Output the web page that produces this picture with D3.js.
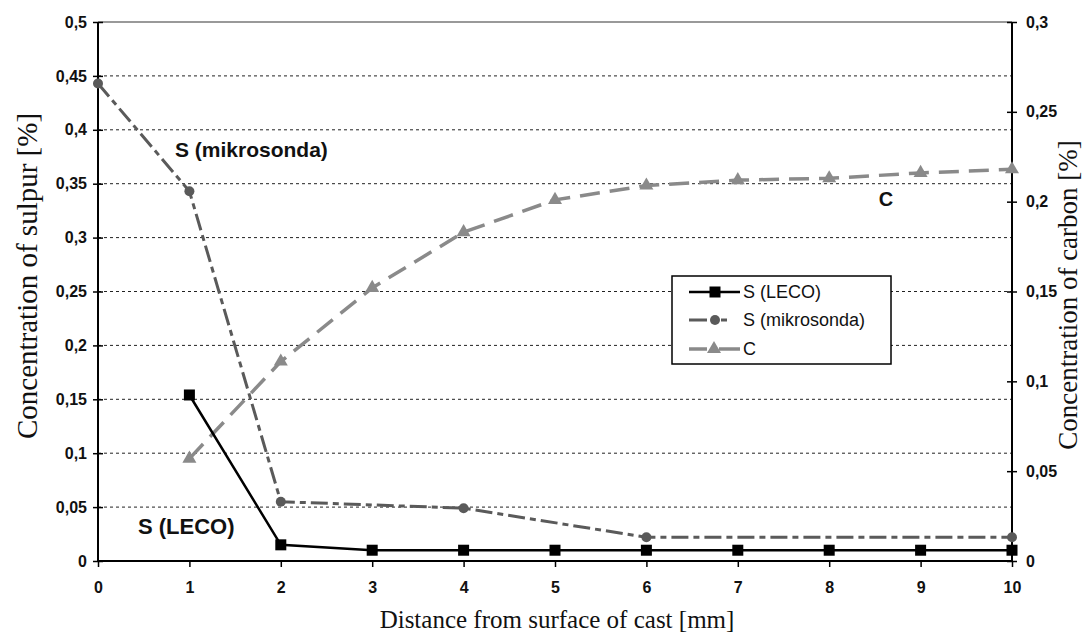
<!DOCTYPE html>
<html><head><meta charset="utf-8">
<script src="https://cdn.jsdelivr.net/npm/d3@7"></script>
<style>body{margin:0;background:#fff}svg{display:block}</style>
</head><body>
<svg id="c" width="1086" height="637"></svg>
<script>
// ---- data ----
const xTicks = [0,1,2,3,4,5,6,7,8,9,10];
const leftTicks = [0,0.05,0.1,0.15,0.2,0.25,0.3,0.35,0.4,0.45,0.5];
const rightTicks = [0,0.05,0.1,0.15,0.2,0.25,0.3];
const lecoX = [1,2,3,4,5,6,7,8,9,10];
const lecoY = [0.154,0.015,0.01,0.01,0.01,0.01,0.01,0.01,0.01,0.01];
const mikroX = [0,1,2,4,6,10];
const mikroY = [0.443,0.343,0.055,0.049,0.022,0.022];
const carbonX = [1,2,3,4,5,6,7,8,9,10];
const carbonY = [0.057,0.111,0.152,0.183,0.201,0.209,0.212,0.213,0.216,0.218];
const seriesNames = ["S (LECO)","S (mikrosonda)","C"];

const svg = d3.select("#c");
const L=98, R=1012, T=22, B=561;
const x = d3.scaleLinear().domain([0,10]).range([L,R]);
const yL = d3.scaleLinear().domain([0,0.5]).range([B,T]);
const yR = d3.scaleLinear().domain([0,0.3]).range([B,T]);
const fmt = v => String(+v.toFixed(2)).replace(".", ",");
const sans = "'Liberation Sans', Arial, sans-serif";
const serif = "'Liberation Serif', 'Times New Roman', serif";

// grid
svg.append("g").selectAll("line").data(leftTicks.filter(v=>v>0 && v<0.5)).join("line")
  .attr("x1",L).attr("x2",R).attr("y1",d=>yL(d)).attr("y2",d=>yL(d))
  .attr("stroke","#222").attr("stroke-width",1).attr("stroke-dasharray","3,3");
svg.append("line").attr("x1",L).attr("x2",R).attr("y1",yL(0.5)).attr("y2",yL(0.5))
  .attr("stroke","#777").attr("stroke-width",1.5);

// axes
const axL = svg.append("g").attr("transform",`translate(${L},0)`)
  .call(d3.axisLeft(yL).tickValues(leftTicks).tickFormat(fmt).tickSize(5).tickPadding(6));
const axR = svg.append("g").attr("transform",`translate(${R},0)`)
  .call(d3.axisRight(yR).tickValues(rightTicks).tickFormat(fmt).tickSize(5).tickPadding(9));
const axB = svg.append("g").attr("transform",`translate(0,${B})`)
  .call(d3.axisBottom(x).tickValues(xTicks).tickFormat(d=>d).tickSize(6).tickPadding(15));
[axL,axR,axB].forEach(g=>{
  g.select(".domain").attr("stroke","#000").attr("stroke-width",2);
  g.selectAll(".tick line").attr("stroke","#000").attr("stroke-width",1.5);
  g.selectAll(".tick text").attr("font-family",sans).attr("font-size",16).attr("font-weight","bold").attr("fill","#111");
});
axL.selectAll(".tick line").attr("x1",5);
axR.selectAll(".tick line").attr("x1",-5);
axL.select(".domain").attr("d",`M0,${T}V${B}`);
axR.select(".domain").attr("d",`M0,${T}V${B}`);
axB.select(".domain").attr("d",`M${L},0H${R}`);

// lines
const lineL = d3.line().x(d=>x(d[0])).y(d=>yL(d[1]));
const lineR = d3.line().x(d=>x(d[0])).y(d=>yR(d[1]));
const carbon = d3.zip(carbonX, carbonY);
const mikro = d3.zip(mikroX, mikroY);
const leco = d3.zip(lecoX, lecoY);

svg.append("path").datum(carbon).attr("d",lineR).attr("fill","none")
  .attr("stroke","#8a8a8a").attr("stroke-width",3.5).attr("stroke-dasharray","20,10");
svg.append("g").selectAll("path").data(carbon).join("path")
  .attr("d",d3.symbol(d3.symbolTriangle,85)).attr("fill","#8a8a8a")
  .attr("transform",d=>`translate(${x(d[0])},${yR(d[1])})`);

svg.append("path").datum(mikro).attr("d",lineL).attr("fill","none")
  .attr("stroke","#5a5a5a").attr("stroke-width",3).attr("stroke-dasharray","17,5,6,5");
svg.append("g").selectAll("circle").data(mikro).join("circle")
  .attr("cx",d=>x(d[0])).attr("cy",d=>yL(d[1])).attr("r",5).attr("fill","#5a5a5a");

svg.append("path").datum(leco).attr("d",lineL).attr("fill","none")
  .attr("stroke","#000").attr("stroke-width",2.5);
svg.append("g").selectAll("rect").data(leco).join("rect")
  .attr("x",d=>x(d[0])-5.5).attr("y",d=>yL(d[1])-5.5).attr("width",11).attr("height",11).attr("fill","#000");

// annotations
svg.append("text").attr("x",175).attr("y",157).text("S (mikrosonda)")
  .attr("font-family",sans).attr("font-size",21).attr("font-weight","bold").attr("fill","#111");
svg.append("text").attr("x",138).attr("y",534).text("S (LECO)")
  .attr("font-family",sans).attr("font-size",22).attr("font-weight","bold").attr("fill","#111");
svg.append("text").attr("x",886).attr("y",206).attr("text-anchor","middle").text("C")
  .attr("font-family",sans).attr("font-size",20).attr("font-weight","bold").attr("fill","#111");

// legend
const lg = svg.append("g");
lg.append("rect").attr("x",672).attr("y",276).attr("width",219).attr("height",88)
  .attr("fill","#fff").attr("stroke","#000").attr("stroke-width",1.5);
const rows = [
  {name:seriesNames[0], y:292, col:"#000", w:2.5, dash:null, sym:"rect"},
  {name:seriesNames[1], y:320, col:"#5a5a5a", w:3, dash:"18,14,6,40", sym:"circle"},
  {name:seriesNames[2], y:349, col:"#8a8a8a", w:3.5, dash:"18,12,30", sym:"tri"}
];
rows.forEach(r=>{
  lg.append("line").attr("x1",689).attr("x2",740).attr("y1",r.y).attr("y2",r.y)
    .attr("stroke",r.col).attr("stroke-width",r.w).attr("stroke-dasharray",r.dash);
  if(r.sym==="rect") lg.append("rect").attr("x",709.5).attr("y",r.y-5.5).attr("width",11).attr("height",11).attr("fill",r.col);
  if(r.sym==="circle") lg.append("circle").attr("cx",715).attr("cy",r.y).attr("r",5).attr("fill",r.col);
  if(r.sym==="tri") lg.append("path").attr("d",d3.symbol(d3.symbolTriangle,85)).attr("transform",`translate(714,${r.y})`).attr("fill",r.col);
  lg.append("text").attr("x",743).attr("y",r.y+6).text(r.name)
    .attr("font-family",sans).attr("font-size",18).attr("fill","#111");
});

// axis titles
svg.append("text").attr("x",557).attr("y",628).attr("text-anchor","middle")
  .text("Distance from surface of cast [mm]").attr("font-family",serif).attr("font-size",25).attr("fill","#111");
svg.append("text").attr("transform",`translate(37,276) rotate(-90)`).attr("text-anchor","middle")
  .text("Concentration of sulpur [%]").attr("font-family",serif).attr("font-size",29).attr("fill","#111");
svg.append("text").attr("transform",`translate(1077,295) rotate(-90)`).attr("text-anchor","middle")
  .text("Concentration of carbon [%]").attr("font-family",serif).attr("font-size",27).attr("fill","#111");
</script>
</body></html>
